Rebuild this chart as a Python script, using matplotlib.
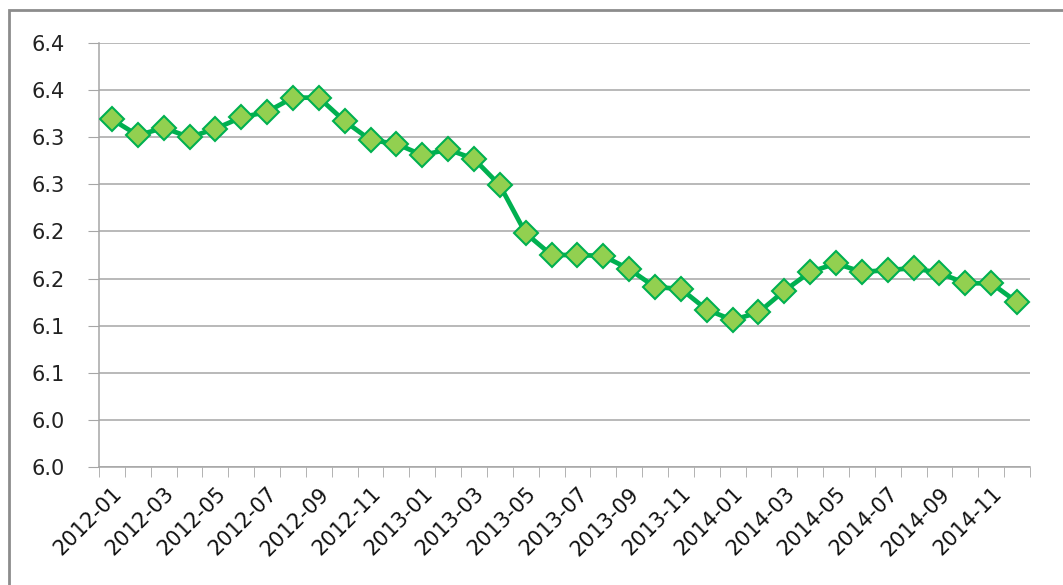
import numpy as np
import matplotlib
matplotlib.use("Agg")
import matplotlib.pyplot as plt
from matplotlib.patches import Rectangle

# --- datos ---
meses = [f"{a}-{m:02d}" for a in (2012, 2013, 2014) for m in range(1, 13)]
valores = [6.369, 6.352, 6.360, 6.350, 6.359, 6.371, 6.377, 6.392, 6.392, 6.367,
           6.347, 6.343, 6.331, 6.337, 6.327, 6.299, 6.248, 6.225, 6.225, 6.224,
           6.210, 6.191, 6.189, 6.167, 6.156, 6.164, 6.187, 6.207, 6.216, 6.207,
           6.209, 6.211, 6.206, 6.195, 6.195, 6.175]
y_ticks = [6.00, 6.05, 6.10, 6.15, 6.20, 6.25, 6.30, 6.35, 6.40, 6.45]
y_labels = ["6.0", "6.0", "6.1", "6.1", "6.2", "6.2", "6.3", "6.3", "6.4", "6.4"]

fig = plt.figure(figsize=(10.63, 5.85), dpi=100)
ax = fig.add_axes([99 / 1063, 1 - 467 / 585, 931 / 1063, 424 / 585])

# marco exterior
fig.patches.append(Rectangle((9 / 1063, -0.01), 1.05, 1 - 10 / 585 + 0.01,
                             transform=fig.transFigure, fill=False,
                             edgecolor="#8c8c8c", linewidth=2))

x = np.arange(len(meses))
ax.plot(x, valores, color="#00B050", linewidth=3.4, marker="D", markersize=12.5,
        markerfacecolor="#92D050", markeredgecolor="#00B050", markeredgewidth=1.5,
        zorder=3)

ax.set_xlim(-0.5, len(meses) - 0.5)
ax.set_ylim(6.00, 6.45)
ax.set_yticks(y_ticks)
ax.set_yticklabels(y_labels, fontsize=15, color="#222222")
ax.yaxis.grid(True, color="#a6a6a6", linewidth=1.1)
ax.set_axisbelow(True)

# etiquetas cada dos meses, marcas entre categorías
ax.set_xticks(x[::2])
ax.set_xticklabels(meses[::2], rotation=45, ha="right", va="top",
                   rotation_mode="anchor", fontsize=15, color="#111111")
ax.set_xticks(np.arange(-0.5, len(meses)), minor=True)
ax.tick_params(axis="x", which="major", length=0, pad=12)
ax.tick_params(axis="x", which="minor", length=7, color="#a6a6a6", direction="out")
ax.tick_params(axis="y", length=8, color="#a6a6a6", pad=17)

for s in ("top", "right"):
    ax.spines[s].set_visible(False)
for s in ("left", "bottom"):
    ax.spines[s].set_color("#a6a6a6")
    ax.spines[s].set_linewidth(1.1)

fig.savefig("out.png", dpi=100)
